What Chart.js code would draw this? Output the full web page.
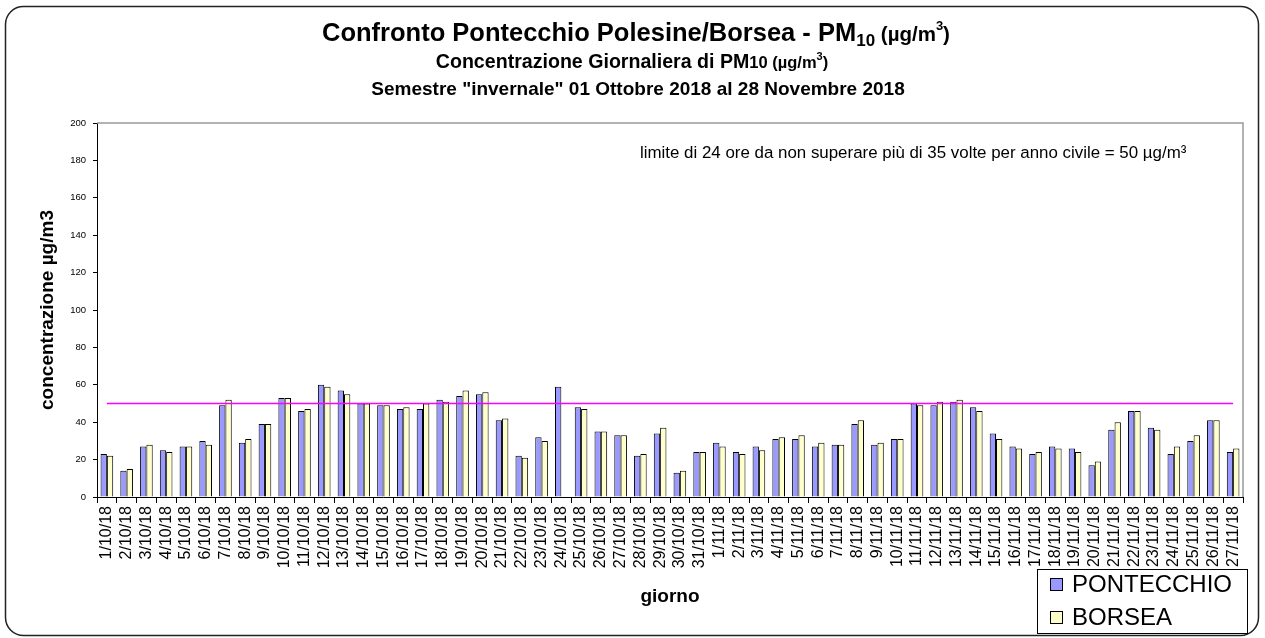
<!DOCTYPE html>
<html lang="it">
<head>
<meta charset="UTF-8">
<title>Confronto Pontecchio Polesine/Borsea - PM10</title>
<script src="https://cdn.jsdelivr.net/npm/chart.js@4.4.1/dist/chart.umd.min.js"></script>
<style>
    html, body { margin: 0; padding: 0; background: #fff; }
    #wrap { width: 1265px; height: 638px; position: relative; }
</style>
</head>
<body>
<div id="wrap">
    <canvas id="grafico" width="1265" height="638"></canvas>
</div>
<script>
    // giorni dal 1/10/18 al 27/11/18
    const giorni = [
        "1/10/18", "2/10/18", "3/10/18", "4/10/18", "5/10/18", "6/10/18", "7/10/18", "8/10/18",
        "9/10/18", "10/10/18", "11/10/18", "12/10/18", "13/10/18", "14/10/18", "15/10/18", "16/10/18",
        "17/10/18", "18/10/18", "19/10/18", "20/10/18", "21/10/18", "22/10/18", "23/10/18", "24/10/18",
        "25/10/18", "26/10/18", "27/10/18", "28/10/18", "29/10/18", "30/10/18", "31/10/18",
        "1/11/18", "2/11/18", "3/11/18", "4/11/18", "5/11/18", "6/11/18", "7/11/18", "8/11/18",
        "9/11/18", "10/11/18", "11/11/18", "12/11/18", "13/11/18", "14/11/18", "15/11/18", "16/11/18",
        "17/11/18", "18/11/18", "19/11/18", "20/11/18", "21/11/18", "22/11/18", "23/11/18", "24/11/18",
        "25/11/18", "26/11/18", "27/11/18"
    ];

    const pontecchio = [
        23, 14, 27, 25, 27, 30, 49, 29, 39, 53, 46, 60, 57, 50, 49, 47,
        47, 52, 54, 55, 41, 22, 32, 59, 48, 35, 33, 22, 34, 13, 24,
        29, 24, 27, 31, 31, 27, 28, 39, 28, 31, 50, 49, 51, 48, 34,
        27, 23, 27, 26, 17, 36, 46, 37, 23, 30, 41, 24
    ];

    const borsea = [
        22, 15, 28, 24, 27, 28, 52, 31, 39, 53, 47, 59, 55, 50, 49, 48,
        50, 51, 57, 56, 42, 21, 30, null, 47, 35, 33, 23, 37, 14, 24,
        27, 23, 25, 32, 33, 29, 28, 41, 29, 31, 49, 51, 52, 46, 31,
        26, 24, 26, 24, 19, 40, 46, 36, 27, 33, 41, 26
    ];

    const limite = 50;
    const yTicks = { min: 0, max: 200, step: 20 };

    const testoLimite = "limite di 24 ore da non superare più di 35 volte per anno civile = 50 µg/m³";
    const FONT = "Arial, 'Liberation Sans', Helvetica, sans-serif";

    // scrive una riga con pezzi di diversa grandezza (pedici / apici)
    function rigaMista(ctx, pezzi, cx, y) {
        let tot = 0;
        pezzi.forEach(p => {
            ctx.font = p.font;
            tot += ctx.measureText(p.t).width;
        });
        let x = cx - tot / 2;
        pezzi.forEach(p => {
            ctx.font = p.font;
            ctx.fillText(p.t, x, y + (p.dy || 0));
            x += ctx.measureText(p.t).width;
        });
    }

    const decorazioni = {
        id: 'decorazioni',
        beforeDraw(chart) {
            const ctx = chart.ctx;
            ctx.save();
            ctx.fillStyle = '#fff';
            ctx.fillRect(0, 0, chart.width, chart.height);
            // cornice arrotondata
            ctx.strokeStyle = '#222';
            ctx.lineWidth = 1.5;
            ctx.beginPath();
            ctx.roundRect(5.5, 6.5, 1253, 629, 18);
            ctx.stroke();
            ctx.restore();
        },
        afterDraw(chart) {
            const ctx = chart.ctx;
            const a = chart.chartArea;
            ctx.save();

            // bordo grigio alto e destro
            ctx.strokeStyle = '#999';
            ctx.lineWidth = 1.5;
            ctx.beginPath();
            ctx.moveTo(a.left, a.top);
            ctx.lineTo(a.right, a.top);
            ctx.lineTo(a.right, a.bottom);
            ctx.stroke();

            // titoli
            ctx.fillStyle = '#000';
            ctx.textBaseline = 'alphabetic';
            rigaMista(ctx, [
                { t: 'Confronto Pontecchio Polesine/Borsea - PM', font: 'bold 25.5px ' + FONT },
                { t: '10', font: 'bold 17px ' + FONT, dy: 5 },
                { t: ' (µg/m', font: 'bold 20.5px ' + FONT },
                { t: '3', font: 'bold 13px ' + FONT, dy: -11 },
                { t: ')', font: 'bold 20.5px ' + FONT }
            ], 636, 41);
            rigaMista(ctx, [
                { t: 'Concentrazione Giornaliera di PM', font: 'bold 19.6px ' + FONT },
                { t: '10 (µg/m', font: 'bold 16.5px ' + FONT },
                { t: '3', font: 'bold 11px ' + FONT, dy: -8 },
                { t: ')', font: 'bold 16.5px ' + FONT }
            ], 632, 68);
            rigaMista(ctx, [
                { t: 'Semestre "invernale" 01 Ottobre 2018 al 28 Novembre 2018', font: 'bold 19px ' + FONT }
            ], 638, 95);

            // nota sul limite
            ctx.font = '16.9px ' + FONT;
            ctx.textBaseline = 'middle';
            ctx.fillText(testoLimite, 640, 153);

            // legenda
            const lx = 1037, ly = 569, lw = 210, lh = 64;
            ctx.fillStyle = '#fff';
            ctx.fillRect(lx, ly, lw, lh);
            ctx.strokeStyle = '#000';
            ctx.lineWidth = 1;
            ctx.strokeRect(lx + 0.5, ly + 0.5, lw, lh);
            const voci = chart.data.datasets.filter(d => d.type !== 'line');
            voci.forEach((d, i) => {
                const yy = 584 + i * 33;
                ctx.fillStyle = d.backgroundColor;
                ctx.fillRect(1050, yy - 6, 13, 13);
                ctx.strokeStyle = '#000';
                ctx.strokeRect(1050.5, yy - 5.5, 12, 12);
                ctx.fillStyle = '#000';
                ctx.font = '24px ' + FONT;
                ctx.textBaseline = 'middle';
                ctx.fillText(d.label, 1072, yy + 1);
            });
            ctx.restore();
        }
    };

    new Chart(document.getElementById('grafico'), {
        type: 'bar',
        data: {
            labels: giorni,
            datasets: [
                {
                    type: 'line',
                    label: 'limite',
                    data: giorni.map(() => limite),
                    borderColor: '#FF00FF',
                    backgroundColor: '#FF00FF',
                    borderWidth: 1.3,
                    pointRadius: 0,
                    fill: false,
                    order: 0
                },
                {
                    type: 'bar',
                    label: 'PONTECCHIO',
                    data: pontecchio,
                    backgroundColor: '#9999FF',
                    borderColor: '#000',
                    borderWidth: 1,
                    barPercentage: 1.0,
                    categoryPercentage: 0.64,
                    order: 1
                },
                {
                    type: 'bar',
                    label: 'BORSEA',
                    data: borsea,
                    backgroundColor: '#FFFFCC',
                    borderColor: '#000',
                    borderWidth: 1,
                    barPercentage: 1.0,
                    categoryPercentage: 0.64,
                    order: 1
                }
            ]
        },
        options: {
            responsive: false,
            devicePixelRatio: 1,
            animation: false,
            layout: { padding: { top: 123, left: 0, right: 22, bottom: 0 } },
            plugins: {
                legend: { display: false },
                title: { display: false },
                tooltip: { enabled: false }
            },
            scales: {
                x: {
                    offset: true,
                    grid: { offset: true, drawOnChartArea: false, color: '#000', tickLength: 6 },
                    border: { color: '#000', width: 1 },
                    ticks: {
                        autoSkip: false,
                        minRotation: 90,
                        maxRotation: 90,
                        padding: 3,
                        color: '#000',
                        font: { family: FONT, size: 16 }
                    },
                    title: {
                        display: true,
                        text: 'giorno',
                        color: '#000',
                        font: { family: FONT, size: 19, weight: 'bold' },
                        padding: { top: 0, bottom: 30 }
                    },
                    afterFit(scale) { scale.height = 141; }
                },
                y: {
                    min: yTicks.min,
                    max: yTicks.max,
                    grid: { drawOnChartArea: false, color: '#000', tickLength: 4 },
                    border: { color: '#000', width: 1 },
                    ticks: {
                        stepSize: yTicks.step,
                        padding: 7,
                        color: '#000',
                        font: { family: FONT, size: 9.5 }
                    },
                    title: {
                        display: true,
                        text: 'concentrazione µg/m3',
                        color: '#000',
                        font: { family: FONT, size: 19, weight: 'bold' },
                        padding: { top: 36, bottom: 0 }
                    },
                    afterFit(scale) { scale.width = 97; }
                }
            }
        },
        plugins: [decorazioni]
    });
</script>
</body>
</html>
